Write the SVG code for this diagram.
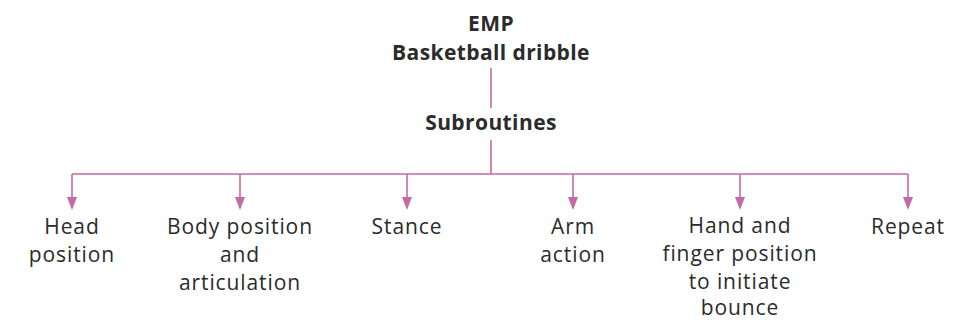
<svg xmlns="http://www.w3.org/2000/svg" width="955" height="322" viewBox="0 0 955 322">
<style>
.t{font-family:"Open Sans","Noto Sans",sans-serif;fill:#2b2b2b;text-anchor:middle}
.b{font-weight:bold;font-size:21px;letter-spacing:0.4px}
.r{font-size:21px;letter-spacing:0.9px}
.c{stroke:#c46aa6;stroke-width:1.6;fill:none}
</style>
<g id="root">
<text class="t b" x="491" y="31">EMP</text>
<text class="t b" x="491" y="60">Basketball dribble</text>
</g>
<g id="sub">
<text class="t b" x="491" y="130">Subroutines</text>
</g>
<g id="connectors">
<line class="c" x1="491" y1="68" x2="491" y2="108"/>
<line class="c" x1="491" y1="140" x2="491" y2="174"/>
<line class="c" x1="72" y1="174" x2="908" y2="174"/>
<path class="c" d="M72,174 V198"/>
<path class="c" d="M240,174 V198"/>
<path class="c" d="M407,174 V198"/>
<path class="c" d="M573,174 V198"/>
<path class="c" d="M740,174 V198"/>
<path class="c" d="M908,174 V198"/>
<path d="M67,197 L77,197 L72,210 Z M235,197 L245,197 L240,210 Z M402,197 L412,197 L407,210 Z M568,197 L578,197 L573,210 Z M735,197 L745,197 L740,210 Z M903,197 L913,197 L908,210 Z" fill="#c46aa6"/>
</g>
<g id="n1"><text class="t r" x="72" y="234">Head</text><text class="t r" x="72" y="262">position</text></g>
<g id="n2"><text class="t r" x="240" y="234">Body position</text><text class="t r" x="240" y="262">and</text><text class="t r" x="240" y="290">articulation</text></g>
<g id="n3"><text class="t r" x="407" y="234">Stance</text></g>
<g id="n4"><text class="t r" x="573" y="234">Arm</text><text class="t r" x="573" y="262">action</text></g>
<g id="n5"><text class="t r" x="740" y="233">Hand and</text><text class="t r" x="740" y="261">finger position</text><text class="t r" x="740" y="289">to initiate</text><text class="t r" x="740" y="315">bounce</text></g>
<g id="n6"><text class="t r" x="908" y="234">Repeat</text></g>
</svg>
